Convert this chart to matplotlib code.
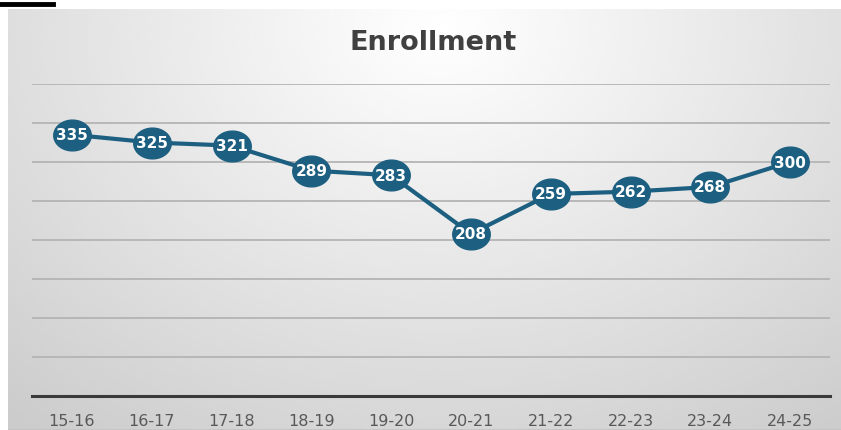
import numpy as np
import matplotlib
matplotlib.use('Agg')
from matplotlib import pyplot as plt
from matplotlib.path import Path
from matplotlib.lines import Line2D

years = ['15-16', '16-17', '17-18', '18-19', '19-20',
         '20-21', '21-22', '22-23', '23-24', '24-25']
enrollment = [335, 325, 321, 289, 283, 208, 259, 262, 268, 300]

W, H = 841, 431
fig = plt.figure(figsize=(W/100, H/100), dpi=100)
fig.patch.set_facecolor('white')

# panel background, radial-ish grey gradient
bg = fig.add_axes([8/W, 0, 1 - 8/W, (H - 10)/H])
yy, xx = np.mgrid[0:1:200j, 0:1:400j]
r = np.sqrt(((xx - 0.52)/0.8)**2 + ((yy - 0.05)/1.2)**2)
shade = 1.0 - 0.2*np.clip(r, 0, 1.1)
bg.imshow(shade, cmap='gray', vmin=0, vmax=1, aspect='auto',
          extent=[0, 1, 1, 0], interpolation='bicubic')
bg.axhline(1, color='#c4c4c4', lw=2)
bg.set_xlim(0, 1)
bg.set_ylim(1, 0)
bg.axis('off')

# cut-off fragment of the page above the chart
fig.add_artist(Line2D([0, 53/W], [1 - 5/H, 1 - 5/H], color='black', lw=3.5,
                      transform=fig.transFigure))

ax = fig.add_axes([32/W, 34/H, (830 - 32)/W, (397 - 85)/H])
ax.set_facecolor('none')
x = np.arange(len(years))
ax.set_xlim(-0.5, len(years) - 0.5)
ax.set_ylim(0, 400)
ax.set_yticks(np.arange(50, 401, 50))
ax.yaxis.grid(True, color='#b4b4b4', lw=1.3)
ax.set_axisbelow(True)
for s in ['top', 'right', 'left']:
    ax.spines[s].set_visible(False)
ax.spines['bottom'].set_color('#3a3a3a')
ax.spines['bottom'].set_linewidth(2.2)
ax.tick_params(axis='y', left=False, labelleft=False)
ax.tick_params(axis='x', bottom=False, pad=9, labelsize=11.5, labelcolor='#595959')
ax.set_xticks(x)
ax.set_xticklabels(years)

t = np.linspace(0, 2*np.pi, 60)
ellipse = Path(np.column_stack([np.cos(t), 0.82*np.sin(t)]))
col = '#1c5f80'
ax.plot(x, enrollment, color=col, lw=3, marker=ellipse, markersize=27,
        markerfacecolor=col, markeredgecolor=col, zorder=3)
for xi, v in zip(x, enrollment):
    ax.text(xi, v, str(v), ha='center', va='center', color='white',
            fontsize=11, fontweight='bold', zorder=4)

fig.text(433/W, 1 - 43/H, 'Enrollment', ha='center', va='center',
         fontsize=19.5, fontweight='bold', color='#404040')

fig.savefig('out.png', dpi=100)
